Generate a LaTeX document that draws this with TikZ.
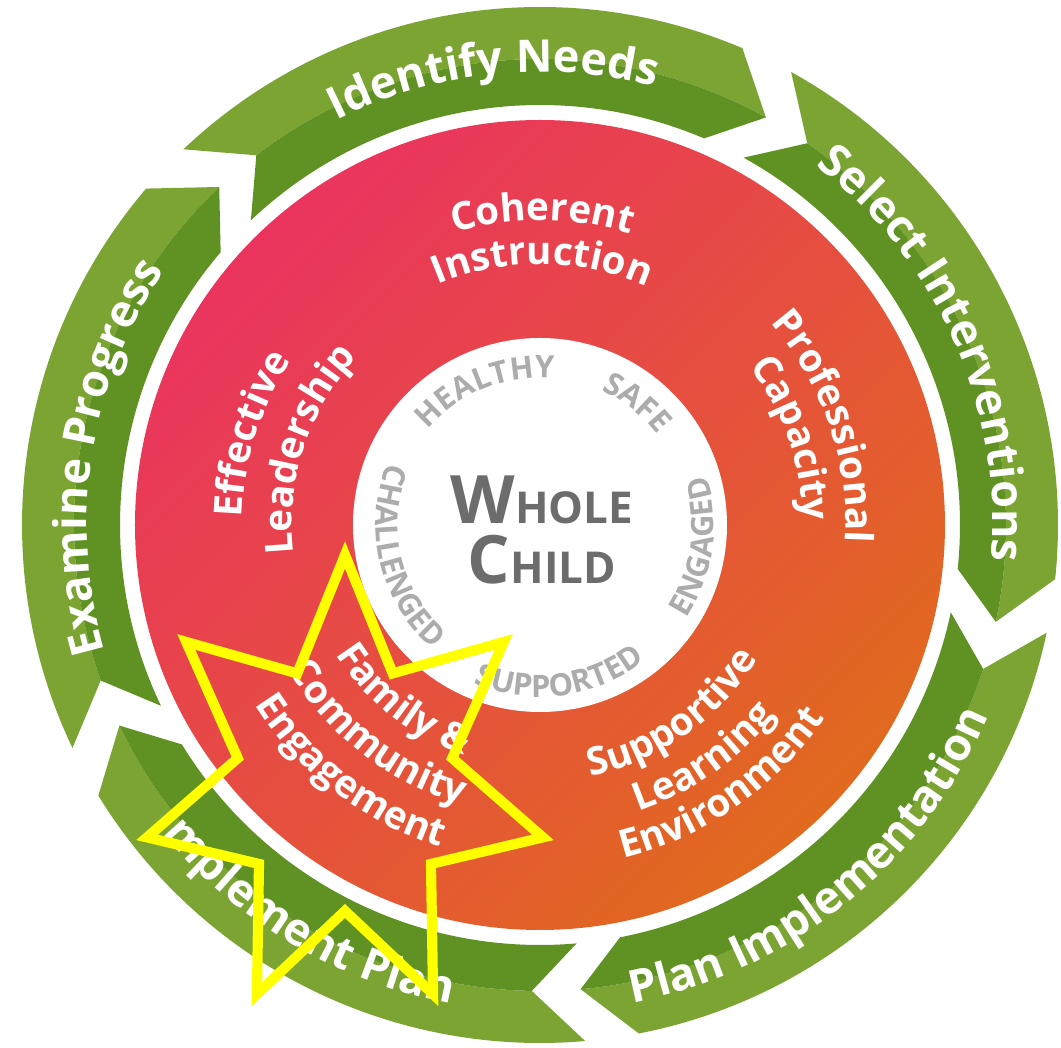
\documentclass[tikz,border=0pt]{standalone}
\usepackage{fontspec}
\setmainfont{Open Sans}
\usetikzlibrary{decorations.text}

\definecolor{ringlight}{RGB}{124,164,50}
\definecolor{ringdark}{RGB}{95,146,35}
\definecolor{discpink}{RGB}{234,52,94}
\definecolor{discmid}{RGB}{230,78,64}
\definecolor{discorange}{RGB}{225,106,30}
\definecolor{wordgray}{RGB}{172,172,172}
\definecolor{hubgray}{RGB}{108,108,108}
\definecolor{staryellow}{RGB}{255,255,0}

\newcommand\ringfont{\fontsize{12.8}{13}\selectfont\bfseries\color{white}}
\newcommand\discfont{\fontsize{11}{12}\selectfont\bfseries\color{white}}
\newcommand\wordfont{\fontsize{8.8}{9}\selectfont\bfseries\color{wordgray}}

% text set along an arc about the centre: radius, from, to, format, text
\newcommand\arclabel[5]{%
  \path[decorate, decoration={text along path, text align=center,
    text={|#4|#5}}] (#2:#1) arc[start angle=#2, end angle=#3, radius=#1];}

\begin{document}
\begin{tikzpicture}[x=1cm, y=1cm,
  hub/.style={font=\bfseries, text=hubgray, inner sep=0pt},
  starline/.style={draw=staryellow, line width=2.9pt, line join=miter}
]
\def\rout{5.18}
\def\rmid{4.66}
\def\rin{4.20}

\useasboundingbox (-5.40,-5.23) rectangle (5.21,5.25);
\fill[white] (-5.40,-5.23) rectangle (5.21,5.25);

% green cycle arrows: tail angle / tail angle of the next one
\foreach \ta/\tb in {133.5/61, 61/-12, -12/-85, -85/-154.5, -154.5/-226.5} {
  \fill[ringlight] (\ta:\rout) arc[start angle=\ta, end angle=\tb+6, radius=\rout]
    -- (\tb:\rmid) arc[start angle=\tb, end angle=\ta-6, radius=\rmid] -- cycle;
  \fill[ringdark] (\ta:\rin) arc[start angle=\ta, end angle=\tb+6, radius=\rin]
    -- (\tb:\rmid) arc[start angle=\tb, end angle=\ta-6, radius=\rmid] -- cycle;
}

\arclabel{4.53}{136}{56}{\ringfont}{Identify Needs}
\arclabel{4.53}{74}{-26}{\ringfont}{Select Interventions}
\arclabel{4.87}{-101}{-1}{\ringfont}{Plan Implementation}
\arclabel{4.87}{188.5}{288.5}{\ringfont}{Implement Plan}
\arclabel{4.53}{221}{121}{\ringfont}{Examine Progress}

% red disc
\shade[top color=discpink, bottom color=discorange, middle color=discmid,
  shading angle=45] (0,0) circle (4.05);

\arclabel{3.05}{139.5}{39.5}{\discfont}{Coherent}
\arclabel{2.61}{139.5}{39.5}{\discfont}{Instruction}
\arclabel{3.06}{69}{-31}{\discfont}{Professional}
\arclabel{2.63}{69}{-31}{\discfont}{Capacity}
\arclabel{2.56}{-105}{-5}{\discfont}{Supportive}
\arclabel{3.03}{-105}{-5}{\discfont}{Learning}
\arclabel{3.44}{-105}{-5}{\discfont}{Environment}
\arclabel{2.42}{182}{282}{\discfont}{Family {\&}}
\arclabel{2.90}{182}{282}{\discfont}{Community}
\arclabel{3.37}{182.5}{282.5}{\discfont}{Engagement}
\arclabel{2.98}{212.5}{112.5}{\discfont}{Effective}
\arclabel{2.48}{212}{112}{\discfont}{Leadership}

% white hub
\fill[white] (0,0) circle (1.87);

\arclabel{1.47}{152}{72}{\wordfont}{HEALTHY}
\arclabel{1.48}{91.5}{11.5}{\wordfont}{SAFE}
\arclabel{1.74}{-48}{32}{\wordfont}{ENGAGED}
\arclabel{1.72}{-122.5}{-42.5}{\wordfont}{SUPPORTED}
\arclabel{1.64}{153.5}{233.5}{\wordfont}{CHALLENGED}

\node[hub] (whole) at (0.02,0.25)
  {{\fontsize{19}{19}\selectfont W}{\fontsize{12.5}{12.5}\selectfont HOLE}};
\node[hub] (child) at (0.02,-0.35)
  {{\fontsize{19}{19}\selectfont C}{\fontsize{12.5}{12.5}\selectfont HILD}};

% yellow star
\begin{scope}[shift={(-1.95,-2.61)}]
  \draw[starline] (90:2.03cm and 2.31cm)
    \foreach \k in {1,...,6} {-- ({90+(\k-0.5)*360/7}:1.10cm and 1.25cm)
      -- ({90+\k*360/7}:2.03cm and 2.31cm)}
    -- ({90+6.5*360/7}:1.10cm and 1.25cm) -- cycle;
\end{scope}
\end{tikzpicture}
\end{document}
